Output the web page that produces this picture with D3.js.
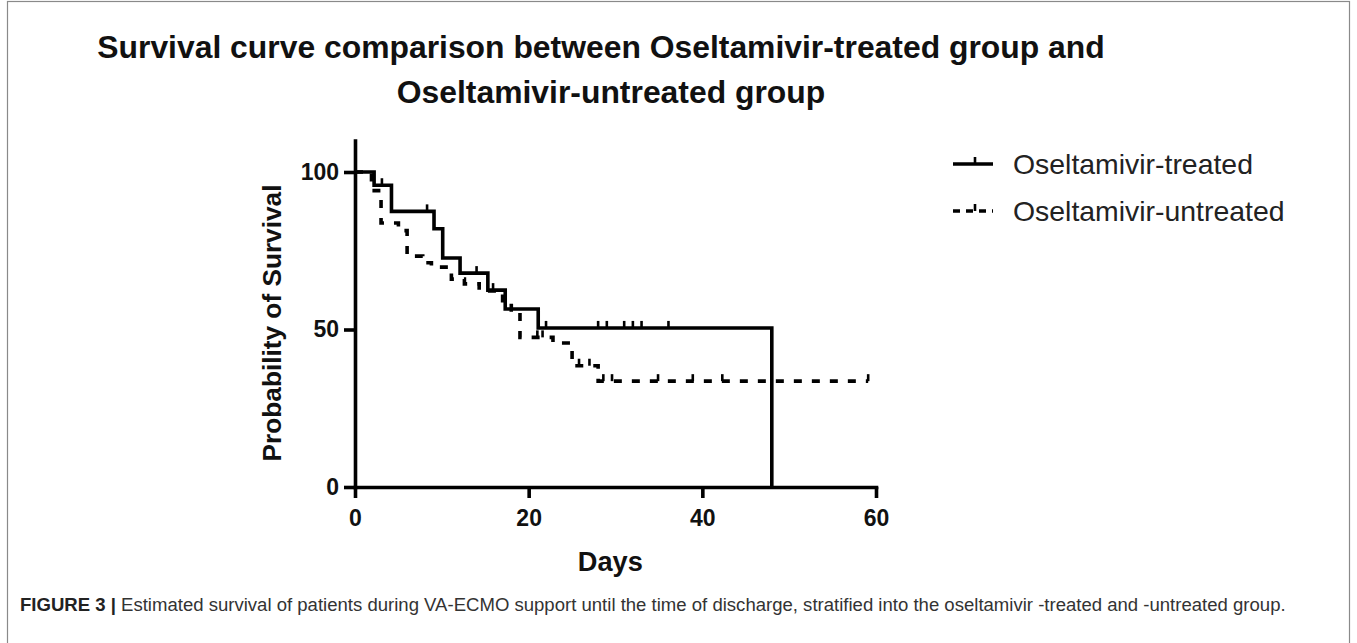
<!DOCTYPE html>
<html><head><meta charset="utf-8">
<script src="https://cdn.jsdelivr.net/npm/d3@7"></script>
<style>html,body{margin:0;padding:0;background:#fff;} svg{display:block;}</style>
</head><body>
<svg id="c" width="1357" height="643"></svg>
<script>
// ---- data ----
const titleLines = ["Survival curve comparison between Oseltamivir-treated group and", "Oseltamivir-untreated group"];
const seriesNames = ["Oseltamivir-treated", "Oseltamivir-untreated"];
const xTicks = [0, 20, 40, 60];
const yTicks = [0, 50, 100];
const xLabel = "Days";
const yLabel = "Probability of Survival";
const captionBold = "FIGURE 3 |";
const captionText = " Estimated survival of patients during VA-ECMO support until the time of discharge, stratified into the oseltamivir -treated and -untreated group.";

const treatedDays = [0, 2.2, 4.2, 9.1, 10.1, 12.1, 15.3, 17.3, 21.1, 48];
const treatedSurv = [100, 95.8, 87.5, 82.0, 72.7, 67.9, 62.5, 56.5, 50.5, 0];
const treatedCensor = [3.1, 8.3, 14.0, 15.9, 22.0, 28.0, 29.0, 31.0, 32.0, 33.0, 36.1];

const untreatedDays = [0, 1.9, 3.0, 5.0, 6.0, 7.8, 8.8, 11.1, 12.6, 14.3, 17.0, 18.0, 19.0, 22.8, 25.0, 28.0, 59.1];
const untreatedSurv = [100, 94.1, 83.8, 81.4, 73.3, 71.2, 69.8, 66.0, 64.5, 62.2, 58.4, 56.2, 47.5, 45.7, 38.5, 33.6, 33.6];
const untreatedCensor = [21.0, 21.6, 25.8, 27.0, 28.6, 29.6, 34.9, 38.9, 42.3, 59.1];

// ---- drawing ----
const svg = d3.select("#c");
const FONT = "'Liberation Sans', Arial, Helvetica, sans-serif";

svg.append("rect").attr("x", 7.5).attr("y", 1.5).attr("width", 1342).attr("height", 700)
  .attr("fill", "none").attr("stroke", "#8a8a8a").attr("stroke-width", 1.2);

function fit(sel, target) {
  const fs = parseFloat(sel.attr("font-size"));
  const w = sel.node().getComputedTextLength();
  sel.attr("font-size", fs * target / w);
  return fs * target / w;
}

// title
const t1 = svg.append("text").attr("x", 601).attr("y", 58).attr("text-anchor", "middle")
  .attr("font-family", FONT).attr("font-weight", "bold").attr("font-size", 29).attr("fill", "#111")
  .text(titleLines[0]);
const tfs = fit(t1, 1008);
svg.append("text").attr("x", 611).attr("y", 103).attr("text-anchor", "middle")
  .attr("font-family", FONT).attr("font-weight", "bold").attr("font-size", tfs).attr("fill", "#111")
  .text(titleLines[1]);

const x = d3.scaleLinear().domain([0, 60]).range([355, 876]);
const y = d3.scaleLinear().domain([0, 110]).range([487, 140.5]);

const SW = 3.6;
// axes
const gx = svg.append("g").attr("transform", `translate(0,${y(0)})`)
  .call(d3.axisBottom(x).tickValues(xTicks).tickSize(11).tickSizeOuter(0).tickPadding(11));
const gy = svg.append("g").attr("transform", `translate(${x(0)},0)`)
  .call(d3.axisLeft(y).tickValues(yTicks).tickSize(11).tickSizeOuter(0).tickPadding(5));
[gx, gy].forEach(g => {
  g.selectAll("path.domain").attr("stroke", "#000").attr("stroke-width", SW).attr("stroke-linecap", "square");
  g.selectAll(".tick line").attr("stroke", "#000").attr("stroke-width", SW);
  g.selectAll(".tick text").attr("font-family", FONT).attr("font-weight", "bold")
    .attr("font-size", 23).attr("fill", "#111");
});
gx.selectAll(".tick text").attr("dy", "0.72em");

// axis titles
const yl = svg.append("text").attr("transform", "translate(281,323) rotate(-90)")
  .attr("text-anchor", "middle").attr("font-family", FONT).attr("font-weight", "bold")
  .attr("font-size", 25).attr("fill", "#111").text(yLabel);
fit(yl, 277);
const xl = svg.append("text").attr("x", x(29.4)).attr("y", 571).attr("text-anchor", "middle")
  .attr("font-family", FONT).attr("font-weight", "bold").attr("font-size", 26).attr("fill", "#111").text(xLabel);
fit(xl, 65);

// curves
const line = d3.line().x(d => x(d[0])).y(d => y(d[1])).curve(d3.curveStepAfter);
function survAt(days, surv, t) {
  let s = surv[0];
  for (let i = 0; i < days.length; i++) if (days[i] <= t) s = surv[i];
  return s;
}
function drawSeries(days, surv, censor, dashed) {
  const pts = days.map((d, i) => [d, surv[i]]);
  svg.append("path").attr("d", line(pts)).attr("fill", "none").attr("stroke", "#000")
    .attr("stroke-width", SW).attr("stroke-dasharray", dashed ? "8,10" : null);
  svg.append("g").selectAll("line").data(censor).join("line")
    .attr("x1", d => x(d)).attr("x2", d => x(d))
    .attr("y1", d => y(survAt(days, surv, d))).attr("y2", d => y(survAt(days, surv, d)) - 7)
    .attr("stroke", "#000").attr("stroke-width", 2.6);
}
drawSeries(untreatedDays, untreatedSurv, untreatedCensor, true);
drawSeries(treatedDays, treatedSurv, treatedCensor, false);

// legend
const leg = svg.append("g");
seriesNames.forEach((name, i) => {
  const ly = 164 + i * 47;
  leg.append("line").attr("x1", 953).attr("x2", 993).attr("y1", ly).attr("y2", ly)
    .attr("stroke", "#000").attr("stroke-width", SW).attr("stroke-dasharray", i ? "7,6" : null);
  leg.append("line").attr("x1", 975).attr("x2", 975).attr("y1", ly).attr("y2", ly - 7)
    .attr("stroke", "#000").attr("stroke-width", 2.6);
  leg.append("text").attr("x", 1013).attr("y", ly + 10).attr("font-family", FONT)
    .attr("font-size", 27).attr("fill", "#222").text(name);
});
const legT = leg.selectAll("text");
const f0 = fit(d3.select(legT.nodes()[0]), 240);
d3.select(legT.nodes()[1]).attr("font-size", f0);

// caption
const cap = svg.append("text").attr("x", 20).attr("y", 611).attr("font-family", FONT)
  .attr("font-size", 17).attr("fill", "#333");
cap.append("tspan").attr("font-weight", "bold").attr("fill", "#222").text(captionBold);
cap.append("tspan").text(captionText);
fit(cap, 1266);
</script>
</body></html>
